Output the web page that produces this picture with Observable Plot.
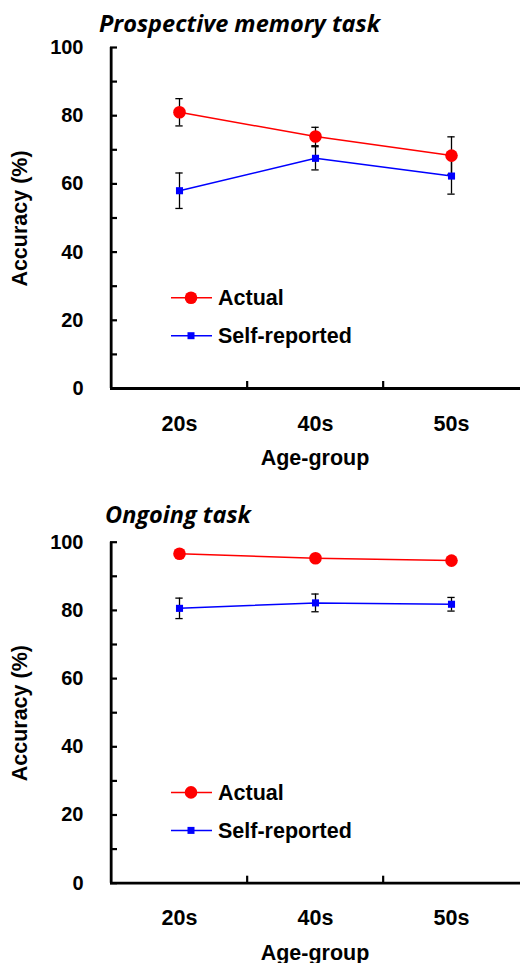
<!DOCTYPE html>
<html>
<head>
<meta charset="utf-8">
<script src="https://cdn.jsdelivr.net/npm/d3@7"></script>
<script src="https://cdn.jsdelivr.net/npm/@observablehq/plot@0.6"></script>
<style>
  html, body { margin: 0; padding: 0; background: white; }
  #wrap { width: 520px; }
  svg { display: block; }
</style>
</head>
<body>
<div id="wrap"></div>
<script>
// ---- data ----
const ageGroups = ["20s", "40s", "50s"];
const seriesNames = ["Actual", "Self-reported"];

const pmActual = [81.0, 73.9, 68.3];
const pmActualErr = [4.0, 2.7, 5.5];
const pmSelf = [58.0, 67.5, 62.3];
const pmSelfErr = [5.2, 3.4, 5.3];

const ogActual = [96.6, 95.3, 94.6];
const ogActualErr = [0.8, 0.8, 0.9];
const ogSelf = [80.6, 82.2, 81.8];
const ogSelfErr = [3.0, 2.6, 2.0];

const yTicksMajor = [0, 20, 40, 60, 80, 100];
const yTicksAll = [0, 10, 20, 30, 40, 50, 60, 70, 80, 90, 100];

const titles = ["Prospective memory task", "Ongoing task"];
const yLabel = "Accuracy (%)";
const xLabel = "Age-group";

// ---- layout ----
const W = 520, ML = 110, MR = 0;
const bw = (W - ML - MR) / ageGroups.length;
const capW = 8;
const capInset = (bw - capW) / 2;

function rows(vals, errs) {
  return ageGroups.map((a, i) => ({age: a, v: vals[i], e: errs[i]}));
}

function makeChart(opts) {
  const {title, actual, actualErr, self, selfErr, height, marginTop, marginBottom, titleX, titleY} = opts;
  const A = rows(actual, actualErr);
  const S = rows(self, selfErr);
  const errMarks = (data) => [
    Plot.ruleX(data, {x: "age", y1: d => d.v - d.e, y2: d => d.v + d.e, stroke: "black", strokeWidth: 1.3}),
    Plot.tickY(data, {x: "age", y: d => d.v + d.e, insetLeft: capInset, insetRight: capInset, stroke: "black", strokeWidth: 1.3}),
    Plot.tickY(data, {x: "age", y: d => d.v - d.e, insetLeft: capInset, insetRight: capInset, stroke: "black", strokeWidth: 1.3})
  ];
  const svg = Plot.plot({
    width: W, height, marginTop, marginBottom, marginLeft: ML, marginRight: MR,
    style: {fontFamily: "'Liberation Sans', Arial, sans-serif", fontWeight: "bold", fontSize: "20px", background: "white", color: "black", overflow: "visible"},
    x: {type: "band", domain: ageGroups, padding: 0},
    y: {domain: [0, 100]},
    marks: [
      ...errMarks(A),
      ...errMarks(S),
      Plot.lineY(A, {x: "age", y: "v", stroke: "#ff0000", strokeWidth: 1.5}),
      Plot.lineY(S, {x: "age", y: "v", stroke: "#0000ff", strokeWidth: 1.5}),
      Plot.dot(A, {x: "age", y: "v", r: 6.3, fill: "#ff0000", stroke: "none"}),
      Plot.dot(S, {x: "age", y: "v", r: 4, symbol: "square", fill: "#0000ff", stroke: "none"}),
      // axis lines
      Plot.ruleY([0], {stroke: "black", strokeWidth: 2.8}),
      Plot.ruleX([ageGroups[0]], {x: d => d, dx: -bw / 2, y1: 0, y2: 100, stroke: "black", strokeWidth: 2.8}),
      // inward y ticks
      Plot.axisY({ticks: yTicksAll, tickSize: 7, dx: 7, tickFormat: () => "", label: null, strokeWidth: 2.2}),
      Plot.axisY({ticks: yTicksMajor, tickSize: 0, tickPadding: 27, label: null, fontSize: 20}),
      // x labels and boundary ticks
      Plot.axisX({tickSize: 0, tickPadding: 27, label: null, fontSize: 21.5}),
      Plot.axisX({ticks: ageGroups.slice(1), tickSize: 7, dy: -7, dx: -bw / 2, tickFormat: () => "", label: null, strokeWidth: 2.2})
    ]
  });
  const s = d3.select(svg);
  const bottom = height - marginBottom;
  // title
  s.append("text").attr("x", titleX).attr("y", titleY).attr("text-anchor", "start")
    .attr("font-family", "'Open Sans', sans-serif").attr("font-style", "italic").attr("font-weight", 700)
    .attr("font-size", 23.5).attr("fill", "black").text(title);
  // y label
  s.append("text").attr("transform", `translate(27,${(marginTop + bottom) / 2 + 1}) rotate(-90)`)
    .attr("text-anchor", "middle").attr("font-size", 21.5).attr("fill", "black").text(yLabel);
  // x label
  s.append("text").attr("x", (ML + W - MR) / 2).attr("y", bottom + 77)
    .attr("text-anchor", "middle").attr("font-size", 21.5).attr("fill", "black").text(xLabel);
  // legend
  const lg = s.append("g");
  const items = [
    {name: seriesNames[0], color: "#ff0000", sym: "circle", dy: -90.3},
    {name: seriesNames[1], color: "#0000ff", sym: "square", dy: -52.3}
  ];
  items.forEach(it => {
    const y = bottom + it.dy;
    lg.append("line").attr("x1", 171).attr("x2", 212).attr("y1", y).attr("y2", y)
      .attr("stroke", it.color).attr("stroke-width", 1.5);
    if (it.sym === "circle") {
      lg.append("circle").attr("cx", 191).attr("cy", y).attr("r", 6.3).attr("fill", it.color);
    } else {
      lg.append("rect").attr("x", 191 - 3.5).attr("y", y - 3.5).attr("width", 7).attr("height", 7).attr("fill", it.color);
    }
    lg.append("text").attr("x", 218).attr("y", y + 7.7).attr("text-anchor", "start")
      .attr("font-size", 21.5).attr("fill", "black").text(it.name);
  });
  return svg;
}

const wrap = document.getElementById("wrap");
wrap.appendChild(makeChart({
  title: titles[0], actual: pmActual, actualErr: pmActualErr, self: pmSelf, selfErr: pmSelfErr,
  height: 480, marginTop: 47, marginBottom: 92, titleX: 99, titleY: 32
}));
wrap.appendChild(makeChart({
  title: titles[1], actual: ogActual, actualErr: ogActualErr, self: ogSelf, selfErr: ogSelfErr,
  height: 483, marginTop: 61.7, marginBottom: 80.3, titleX: 105, titleY: 43
}));
</script>
</body>
</html>
